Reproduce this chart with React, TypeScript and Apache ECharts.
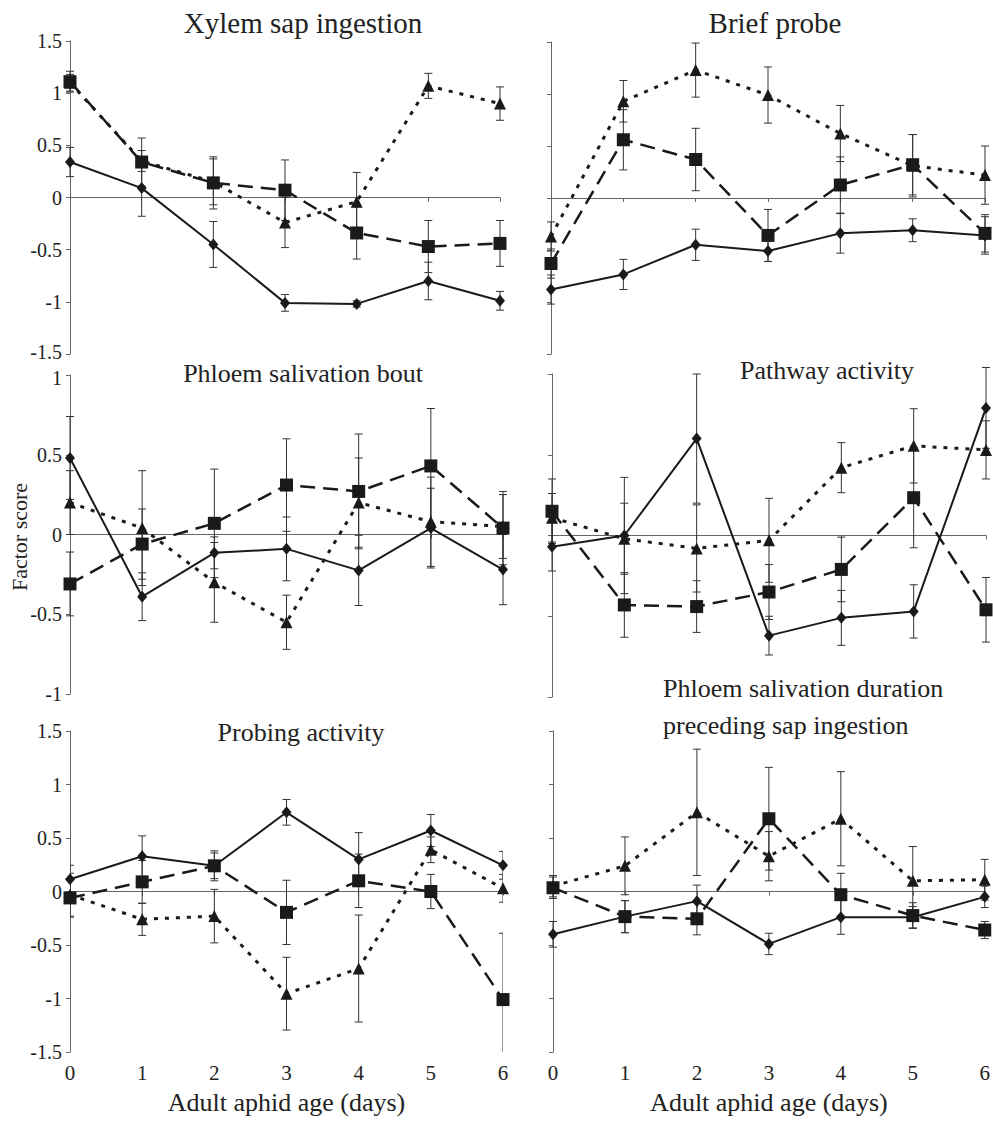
import React, { useEffect, useRef } from "react";
import * as echarts from "echarts";

// ---------- data ----------
const ages = [0, 1, 2, 3, 4, 5, 6];

// Xylem sap ingestion
const xylemDiamond = [0.34, 0.09, -0.45, -1.01, -1.02, -0.8, -0.99];
const xylemDiamondErr = [0.14, 0.27, 0.22, 0.08, 0.03, 0.18, 0.09];
const xylemSquare = [1.11, 0.34, 0.14, 0.07, -0.34, -0.47, -0.44];
const xylemSquareErr = [0.1, 0.23, 0.25, 0.29, 0.25, 0.25, 0.22];
const xylemTriangle = [1.1, 0.35, 0.15, -0.24, -0.04, 1.07, 0.9];
const xylemTriangleErr = [0.08, 0.1, 0.22, 0.24, 0.28, 0.12, 0.16];

// Brief probe
const briefDiamond = [-0.88, -0.735, -0.45, -0.51, -0.34, -0.31, -0.36];
const briefDiamondErr = [0.14, 0.145, 0.15, 0.1, 0.19, 0.11, 0.18];
const briefSquare = [-0.63, 0.56, 0.37, -0.36, 0.125, 0.32, -0.34];
const briefSquareErr = [0.14, 0.29, 0.3, 0.25, 0.27, 0.29, 0.18];
const briefTriangle = [-0.37, 0.93, 1.23, 0.99, 0.62, 0.31, 0.22];
const briefTriangleErr = [0.14, 0.2, 0.26, 0.27, 0.27, 0.3, 0.28];

// Phloem salivation bout
const boutDiamond = [0.48, -0.39, -0.115, -0.09, -0.225, 0.04, -0.22];
const boutDiamondErr = [0.26, 0.15, 0.1, 0.2, 0.22, 0.25, 0.22];
const boutSquare = [-0.31, -0.06, 0.07, 0.31, 0.27, 0.43, 0.04];
const boutSquareErr = [0.2, 0.22, 0.34, 0.29, 0.36, 0.36, 0.23];
const boutTriangle = [0.2, 0.04, -0.3, -0.55, 0.2, 0.08, 0.05];
const boutTriangleErr = [0.2, 0.36, 0.25, 0.17, 0.28, 0.28, 0.2];

// Pathway activity
const pathDiamond = [-0.07, 0.0, 0.6, -0.62, -0.51, -0.47, 0.79];
const pathDiamondErr = [0.15, 0.36, 0.4, 0.12, 0.17, 0.165, 0.25];
const pathSquare = [0.15, -0.43, -0.44, -0.35, -0.21, 0.234, -0.46];
const pathSquareErr = [0.2, 0.2, 0.16, 0.17, 0.2, 0.31, 0.2];
const pathTriangle = [0.11, -0.02, -0.08, -0.03, 0.42, 0.555, 0.53];
const pathTriangleErr = [0.15, 0.22, 0.27, 0.26, 0.155, 0.23, 0.18];

// Probing activity
const probDiamond = [0.115, 0.33, 0.24, 0.74, 0.3, 0.57, 0.245];
const probDiamondErr = [0.13, 0.19, 0.14, 0.12, 0.25, 0.15, 0.13];
const probSquare = [-0.06, 0.09, 0.24, -0.195, 0.1, 0.0, -1.01];
const probSquareErr = [0.18, 0.2, 0.12, 0.3, 0.25, 0.16, 0.62];
const probTriangle = [-0.03, -0.26, -0.23, -0.955, -0.72, 0.39, 0.03];
const probTriangleErr = [0.2, 0.15, 0.25, 0.34, 0.5, 0.12, 0.13];

// Phloem salivation duration preceding sap ingestion
const durDiamond = [-0.4, -0.235, -0.09, -0.49, -0.24, -0.24, -0.05];
const durDiamondErr = [0.12, 0.15, 0.15, 0.1, 0.16, 0.1, 0.1];
const durSquare = [0.035, -0.235, -0.255, 0.68, -0.03, -0.225, -0.36];
const durSquareErr = [0.1, 0.15, 0.15, 0.48, 0.2, 0.12, 0.08];
const durTriangle = [0.05, 0.24, 0.74, 0.33, 0.68, 0.1, 0.11];
const durTriangleErr = [0.1, 0.27, 0.59, 0.23, 0.44, 0.32, 0.19];

const xAxisName = "Adult aphid age (days)";
const yAxisName = "Factor score";

// ---------- panels ----------
const panels = [
  { d: xylemDiamond, de: xylemDiamondErr, s: xylemSquare, se: xylemSquareErr, t: xylemTriangle, te: xylemTriangleErr, yMin: -1.5, yMax: 1.5 },
  { d: briefDiamond, de: briefDiamondErr, s: briefSquare, se: briefSquareErr, t: briefTriangle, te: briefTriangleErr, yMin: -1.5, yMax: 1.5 },
  { d: boutDiamond, de: boutDiamondErr, s: boutSquare, se: boutSquareErr, t: boutTriangle, te: boutTriangleErr, yMin: -1, yMax: 1 },
  { d: pathDiamond, de: pathDiamondErr, s: pathSquare, se: pathSquareErr, t: pathTriangle, te: pathTriangleErr, yMin: -1, yMax: 1 },
  { d: probDiamond, de: probDiamondErr, s: probSquare, se: probSquareErr, t: probTriangle, te: probTriangleErr, yMin: -1.5, yMax: 1.5 },
  { d: durDiamond, de: durDiamondErr, s: durSquare, se: durSquareErr, t: durTriangle, te: durTriangleErr, yMin: -1.5, yMax: 1.5 },
];

// shiftMin / shiftMax nudge the end labels of stacked left axes apart
const layouts = [
  { left: 70, top: 41, width: 430, height: 313, yLabels: true, xLabels: false, clip: false, shiftMin: true, shiftMax: false },
  { left: 551, top: 42, width: 434, height: 312, yLabels: false, xLabels: false, clip: false, shiftMin: false, shiftMax: false },
  { left: 70, top: 375, width: 433, height: 319, yLabels: true, xLabels: false, clip: false, shiftMin: false, shiftMax: true },
  { left: 552, top: 374, width: 434, height: 323, yLabels: false, xLabels: false, clip: false, shiftMin: false, shiftMax: false },
  { left: 70, top: 731, width: 433, height: 321, yLabels: true, xLabels: true, clip: true, shiftMin: false, shiftMax: false },
  { left: 553, top: 731, width: 434, height: 321, yLabels: false, xLabels: true, clip: false, shiftMin: false, shiftMax: false },
];

const FONT = "Liberation Serif";
const INK = "#1a1a1a";
const AXIS = "#666";
const TICK_FONT = 20;

function errRender(params: any, api: any) {
  const x = api.value(0);
  const y = api.value(1);
  const e = api.value(2);
  const hi = api.coord([x, y + e]);
  const lo = api.coord([x, y - e]);
  const w = 4;
  const style = { stroke: "#333", lineWidth: 1 };
  return {
    type: "group",
    children: [
      { type: "line", shape: { x1: hi[0], y1: hi[1], x2: lo[0], y2: lo[1] }, style },
      { type: "line", shape: { x1: hi[0] - w, y1: hi[1], x2: hi[0] + w, y2: hi[1] }, style },
      { type: "line", shape: { x1: lo[0] - w, y1: lo[1], x2: lo[0] + w, y2: lo[1] }, style },
    ],
  };
}

function buildOption() {
  const grid: any[] = [];
  const xAxis: any[] = [];
  const yAxis: any[] = [];
  const series: any[] = [];

  panels.forEach((p, i) => {
    const L = layouts[i];
    grid.push({ left: L.left, top: L.top, width: L.width, height: L.height });
    const zx = xAxis.length;
    xAxis.push({
      gridIndex: i,
      type: "value",
      min: 0,
      max: 6,
      interval: 1,
      position: "bottom",
      axisLine: { show: true, onZero: true, lineStyle: { color: AXIS, width: 1 } },
      axisTick: { show: true, length: 4, lineStyle: { color: AXIS } },
      axisLabel: { show: false },
      splitLine: { show: false },
    });
    if (L.xLabels) {
      xAxis.push({
        gridIndex: i,
        type: "value",
        min: 0,
        max: 6,
        interval: 1,
        position: "bottom",
        axisLine: { show: false, onZero: false },
        axisTick: { show: false },
        axisLabel: { show: true, fontSize: 21, margin: 10, color: "#222", fontFamily: FONT },
        splitLine: { show: false },
        name: xAxisName,
        nameLocation: "middle",
        nameGap: 37,
        nameTextStyle: { fontSize: 26, color: "#222", fontFamily: FONT },
      });
    }
    yAxis.push({
      gridIndex: i,
      type: "value",
      min: p.yMin,
      max: p.yMax,
      interval: 0.5,
      axisLine: { show: true, onZero: false, lineStyle: { color: AXIS, width: 1 } },
      axisTick: { show: true, length: 4, lineStyle: { color: AXIS } },
      axisLabel: {
        show: L.yLabels,
        fontSize: TICK_FONT,
        margin: 8,
        color: "#222",
        fontFamily: FONT,
        formatter: (v: number) => {
          if (L.shiftMin && v === p.yMin) return `{lo|${v}}`;
          if (L.shiftMax && v === p.yMax) return `{hi|${v}}`;
          return `${v}`;
        },
        rich: {
          lo: { fontSize: TICK_FONT, fontFamily: FONT, color: "#222", padding: [0, 0, 5, 0] },
          hi: { fontSize: TICK_FONT, fontFamily: FONT, color: "#222", padding: [5, 0, 0, 0] },
        },
      },
      splitLine: { show: false },
    });

    const kinds = [
      { vals: p.t, errs: p.te, symbol: "triangle", size: 12, line: { type: [4, 7], width: 3 } },
      { vals: p.s, errs: p.se, symbol: "rect", size: 13, line: { type: [15, 8], width: 2.5 } },
      { vals: p.d, errs: p.de, symbol: "diamond", size: [10, 12], line: { type: "solid", width: 2 } },
    ];
    kinds.forEach((k) => {
      series.push({
        type: "custom",
        xAxisIndex: zx,
        yAxisIndex: i,
        clip: L.clip,
        z: 1,
        renderItem: errRender,
        data: ages.map((a, j) => [a, k.vals[j], k.errs[j]]),
        silent: true,
      });
    });
    kinds.forEach((k) => {
      series.push({
        type: "line",
        xAxisIndex: zx,
        yAxisIndex: i,
        data: ages.map((a, j) => [a, k.vals[j]]),
        symbol: k.symbol,
        symbolSize: k.size,
        showAllSymbol: true,
        z: 3,
        lineStyle: { color: INK, width: k.line.width, type: k.line.type },
        itemStyle: { color: INK, borderWidth: 0 },
        silent: true,
      });
    });
  });

  const textEl = (text: string, x: number, y: number, size: number, align = "center", rotation = 0) => ({
    type: "text",
    x,
    y,
    rotation,
    style: {
      text,
      fill: "#222",
      fontSize: size,
      fontFamily: FONT,
      textAlign: align,
      textVerticalAlign: "middle",
    },
  });

  const graphic = [
    textEl("Xylem sap ingestion", 303, 23, 29),
    textEl("Brief probe", 775, 23, 29),
    textEl("Phloem salivation bout", 303, 373, 26),
    textEl("Pathway activity", 827, 370, 26),
    textEl("Phloem salivation duration", 663, 688, 26, "left"),
    textEl("preceding sap ingestion", 663, 725, 26, "left"),
    textEl("Probing activity", 301, 732, 26),
    textEl(yAxisName, 19, 537, 22, "center", Math.PI / 2),
  ];

  return {
    animation: false,
    backgroundColor: "#ffffff",
    textStyle: { fontFamily: FONT },
    grid,
    xAxis,
    yAxis,
    series,
    graphic,
  };
}

export default function App() {
  const ref = useRef<HTMLDivElement>(null);
  useEffect(() => {
    if (!ref.current) return;
    const chart = echarts.init(ref.current, undefined, { renderer: "svg" });
    chart.setOption(buildOption() as any);
    return () => chart.dispose();
  }, []);
  return (
    <div
      ref={ref}
      style={{ position: "absolute", left: 0, top: 0, width: 993, height: 1122, background: "#fff" }}
    />
  );
}
